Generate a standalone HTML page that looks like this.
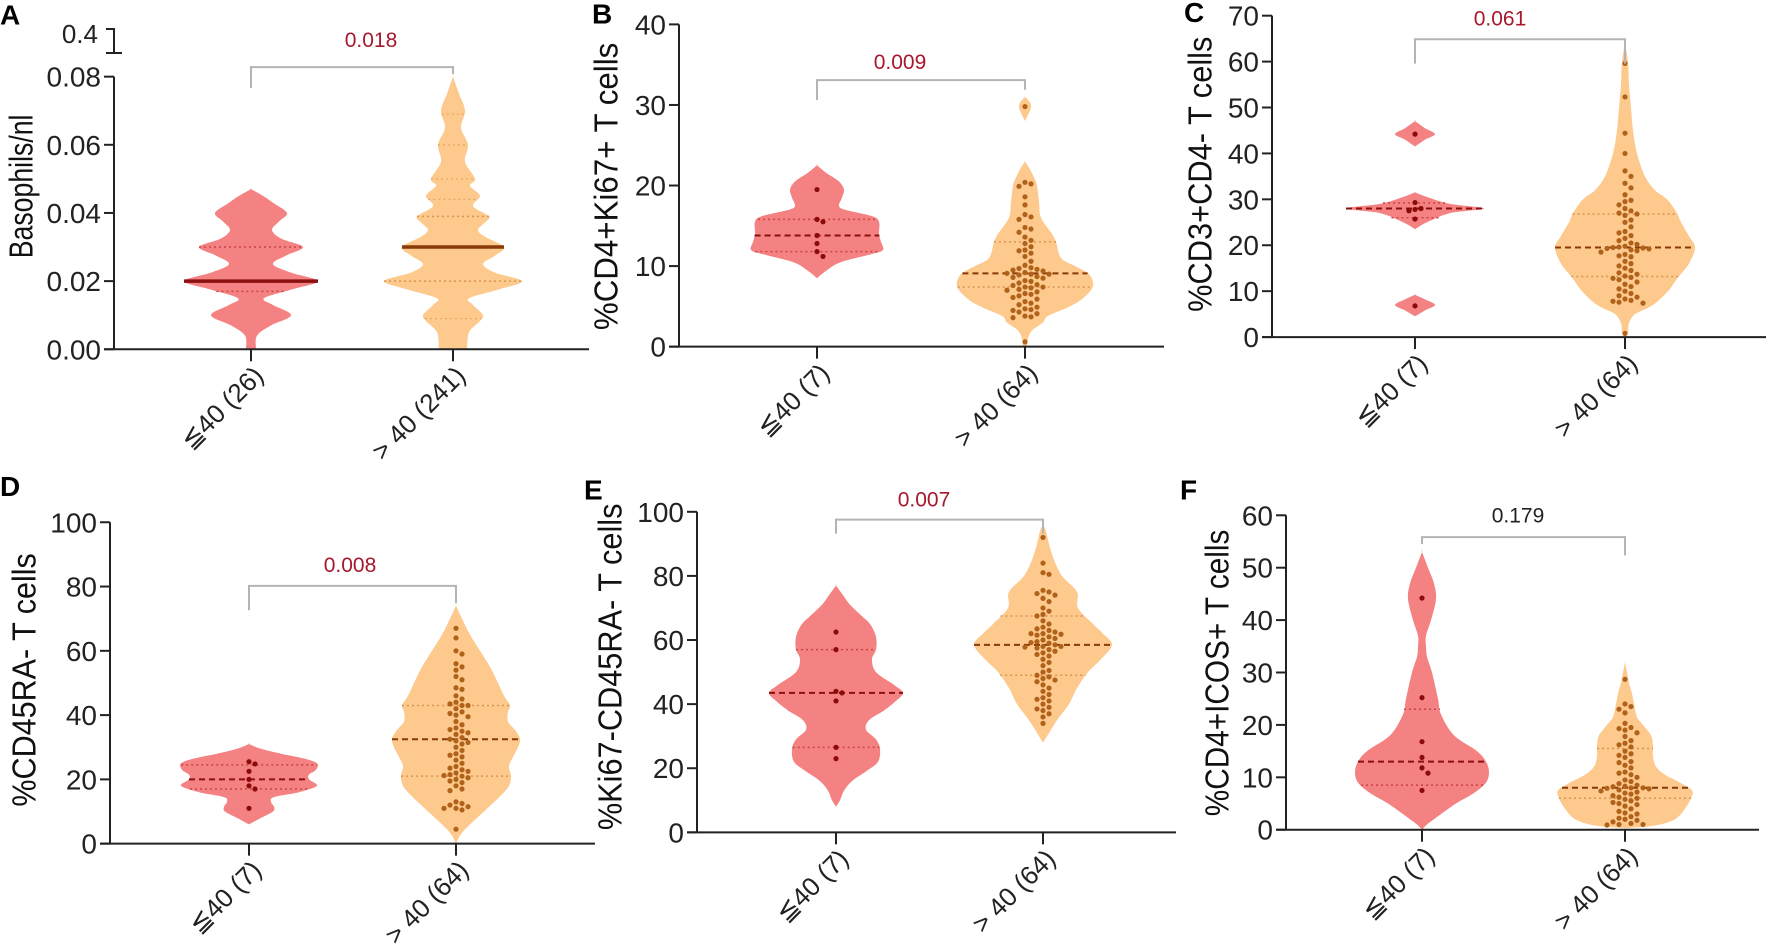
<!DOCTYPE html>
<html><head><meta charset="utf-8">
<style>
html,body{margin:0;padding:0;background:#fff;overflow:hidden;}
svg{display:block;font-family:"Liberation Sans",Arial,sans-serif;}
</style></head>
<body>
<svg id="fig" width="1772" height="946" viewBox="0 0 1772 946" xmlns="http://www.w3.org/2000/svg"></svg>
<script>
// ---------- DATA ----------
const categoriesA = ["≦40 (26)", "> 40 (241)"];
const categories = ["≦40 (7)", "> 40 (64)"];
const pValues = ["0.018", "0.009", "0.061", "0.008", "0.007", "0.179"];
const yTitles = ["Basophils/nl", "%CD4+Ki67+ T cells", "%CD3+CD4- T cells", "%CD45RA- T cells", "%Ki67-CD45RA- T cells", "%CD4+ICOS+ T cells"];
const ticksA = [0, 0.02, 0.04, 0.06, 0.08];
const tickLabelsA = ["0.00", "0.02", "0.04", "0.06", "0.08"];
const ticksB = [0, 10, 20, 30, 40];
const ticksC = [0, 10, 20, 30, 40, 50, 60, 70];
const ticksD = [0, 20, 40, 60, 80, 100];
const ticksE = [0, 20, 40, 60, 80, 100];
const ticksF = [0, 10, 20, 30, 40, 50, 60];

// violin profiles: [value, density]
const A_red_profile = [[0,5],[0.004,6],[0.007,20],[0.01,40],[0.013,22],[0.015,13],[0.0175,40],[0.02,67],[0.0225,40],[0.025,22],[0.0275,35],[0.03,52],[0.0325,30],[0.035,21],[0.0375,28],[0.04,36],[0.043,22],[0.045,12],[0.047,0]];
const A_org_profile = [[0,14],[0.005,16],[0.008,26],[0.01,30],[0.013,20],[0.015,16],[0.0175,45],[0.02,69],[0.0225,42],[0.025,30],[0.0275,42],[0.03,51],[0.033,32],[0.035,25],[0.037,31],[0.039,36],[0.042,20],[0.045,27],[0.048,17],[0.05,22],[0.055,12],[0.06,15],[0.065,8],[0.07,12],[0.075,6],[0.08,0]];
const A_red_stats = [0.02, 0.017, 0.03];
const A_org_stats = [0.03, 0.02, 0.039];
const A_org_extra = [0.009, 0.044, 0.05, 0.06, 0.069];
const A_red_points = [];
const A_org_points = [];

const B_red_profile = [[8.5,0],[9.5,10],[10.5,24],[11.5,55],[12,66],[13,64],[14,62],[15.5,62],[16.2,55],[17,28],[17.5,22],[18.5,25],[19.5,27],[20.5,22],[21.5,10],[22.5,0]];
const B_org_profile = [[0,2],[1,3],[2,7],[3,18],[3.8,23],[5,45],[6,58],[7.5,68],[9,64],[10,50],[11,36],[13,31],[14,27],[16,16],[18,14],[20,12],[21,9],[22,5],[23,0]];
const B_org_profile2 = [[28,0],[29.3,5],[29.8,6],[30.3,5],[31,0]];
const B_red_stats = [13.8, 11.8, 15.8];
const B_org_stats = [9.1, 7.4, 13];
const B_red_points = [19.5, 15.8, 15.5, 13.8, 12.8, 11.8, 11.2];
const B_org_points = [29.8,20.4,20.2,19.9,18.6,17.6,16.4,16.1,15.8,14.8,14.6,14.2,13.6,13.2,12.8,12.4,11.9,11.6,11.2,10.6,10.1,9.8,9.7,9.6,9.5,9.4,9.2,9.1,9.0,9.0,8.9,8.7,8.6,8.5,8.2,8.1,7.9,7.7,7.6,7.4,7.4,7.3,7.1,7.0,6.6,6.5,6.3,6.1,5.9,5.6,5.4,5.2,4.9,4.7,4.6,4.5,4.3,4.1,3.8,3.7,3.6,0.6,12.0,6.8];

const C_red_profile = [[23.5,0],[25,12],[27,35],[28,69],[29,35],[30.5,12],[31.5,0]];
const C_red_profile2 = [[41.5,0],[43,10],[44.2,20],[45.5,10],[47,0]];
const C_red_profile3 = [[4.5,0],[5.8,10],[7,20],[8.2,10],[9.2,0]];
const C_org_profile = [[0,0],[1,3],[3,4],[5,10],[7,28],[10,43],[13,53],[16,64],[19.5,70],[22,64],[25,56],[27,52],[30,42],[32,30],[35,20],[40,12],[45,8],[50,6],[55,4],[60,3],[64,0]];
const C_red_stats = [28, 26, 29.2];
const C_org_stats = [19.5, 13.2, 26.8];
const C_red_points = [44.2, 29.3, 28, 27.8, 27.5, 25.7, 6.8];
const C_org_points = [59.6,52.3,44.4,40,36.2,35,33.5,32.5,31,29.8,29.5,28.8,28,27.5,27,26.8,26.5,25.5,25,24,23,22.7,22.1,21.5,21,20.5,20.2,19.8,19.6,19.5,19.4,19.3,19.2,19.0,18.8,18.5,18,17.7,17.5,16.5,15.5,15,14.5,14,13.7,13.3,13,12.8,12.5,12,11.5,11,10.5,10,9.5,9,8.7,8.3,8,7.8,7.6,7.4,0.8,16];

const D_red_profile = [[6,0],[8,12],[10,24],[11.5,25],[13,22],[14.5,25],[16,50],[18,68],[20,60],[21.5,60],[23,67],[25,68],[26.5,55],[28,32],[29.5,12],[31,0]];
const D_org_profile = [[0,0],[3,5],[6,14],[10,28],[15,45],[18,53],[21,55],[24,53],[27,57],[30,62],[32.5,64],[35,60],[38,52],[41,52],[43,54],[46,48],[50,42],[55,34],[60,24],[65,14],[70,6],[74,0]];
const D_red_stats = [20, 17, 24.5];
const D_org_stats = [32.5, 21, 43];
const D_red_points = [25.5, 24.8, 22.5, 20, 18, 17, 11];
const D_org_points = [67,64,60,59,56,55,54,52,51,48,46,45,44,43.5,43,43,42,41,40,39.5,36,35.5,35,34.5,34,33,32.5,32,31.5,31,30,29,28,27,26,25,24,23.5,23,22.5,22,21.5,21,20.5,20,19.5,19,18,17,16.5,13,12.5,12,11.5,11,11,10.5,4.5,37,38,48.5,27.5,21.2,40.5];

const E_red_profile = [[8,0],[10,4],[13,8],[16,16],[19,30],[22,42],[26,44],[29,40],[32,30],[35,33],[38,48],[41,60],[43.5,67],[46,58],[50,40],[54,36],[57,40],[61,40],[65,34],[68,24],[71,14],[74,7],[77,0]];
const E_org_profile = [[28,0],[31,6],[35,14],[40,26],[45,34],[50,45],[54,58],[58.5,69],[62,60],[65,50],[70,35],[75,34],[80,19],[85,11],[90,6],[94,3],[96,0]];
const E_red_stats = [43.5, 26.5, 57];
const E_org_stats = [58.5, 49, 67.5];
const E_red_points = [62.5, 57, 44, 43.5, 41, 26.5, 23];
const E_org_points = [92,84,81,80.5,75.5,75,74.5,74,73,72,70,68,67.5,66,64,63.5,63,62.5,62,62,61.5,61,60.5,60,59.5,59,58.5,58,58,57.5,57,56.5,56,55,54,53,52,50.5,50,49,48.5,48,47.5,47,46,45,44,43,42,41.5,41,40,39,38.5,38,37,36,34,61.8,59.2,57.8,55.5,65,69];

const F_red_profile = [[0,0],[1,5],[2,12],[5,34],[7,52],[9,64],[11,67],[13,64],[15,55],[18,32],[22,19],[25,16],[30,10],[33,5],[35,4],[37,4],[40,9],[44,14],[47,12],[50,6],[53,0]];
const F_org_profile = [[0.3,0],[0.8,30],[2,50],[4,60],[6,66],[7.5,67],[9,55],[10.5,40],[12,31],[14,28],[16,28],[18,26],[20,18],[21.5,12],[24,9],[26,7],[28,4],[30,2],[32,0]];
const F_red_stats = [13, 8.5, 23];
const F_org_stats = [8, 6, 15.5];
const F_red_points = [44.2, 25.2, 16.8, 13.8, 11.8, 10.8, 7.5];
const F_org_points = [28.7,24,23.5,23,22.3,20.3,19.5,19.3,19,18.5,17.8,17,16.5,15.8,15,14.5,13.8,13,12.3,11.8,11,10.8,10.5,10,9.5,9.2,8.8,8.5,8.3,8.2,8,8,7.9,7.8,7.6,7.4,7.2,7,6.8,6.5,6.2,6,5.8,5.5,5.2,5,4.8,4.5,4,3.5,3.2,3,2.5,2.2,2,1.8,1.5,1.2,1,1,0.9,12.8,14.2,16.2];

// ---------- RENDER ----------
const NS = "http://www.w3.org/2000/svg";
const svg = document.getElementById("fig");
function mk(tag, attrs, parent) {
  const e = document.createElementNS(NS, tag);
  for (const k in attrs) e.setAttribute(k, attrs[k]);
  (parent || svg).appendChild(e);
  return e;
}
const RED = {fill:"#f58282", dot:"#8b0a0a", med:"#8b1010", q:"#c84545"};
const ORG = {fill:"#fdc98d", dot:"#b0621a", med:"#8a3a08", q:"#d89550"};

function smoothPath(pts) {
  let d = "M" + pts[0][0].toFixed(1) + "," + pts[0][1].toFixed(1);
  for (let i = 0; i < pts.length - 1; i++) {
    const p0 = pts[Math.max(0, i - 1)], p1 = pts[i], p2 = pts[i + 1], p3 = pts[Math.min(pts.length - 1, i + 2)];
    const c1x = p1[0] + (p2[0] - p0[0]) / 6, c1y = p1[1] + (p2[1] - p0[1]) / 6;
    const c2x = p2[0] - (p3[0] - p1[0]) / 6, c2y = p2[1] - (p3[1] - p1[1]) / 6;
    d += " C" + c1x.toFixed(1) + "," + c1y.toFixed(1) + " " + c2x.toFixed(1) + "," + c2y.toFixed(1) + " " + p2[0].toFixed(1) + "," + p2[1].toFixed(1);
  }
  return d;
}

function drawPanel(g, P) {
  const ys = v => P.y0 - (v - P.min) / (P.max - P.min) * (P.y0 - P.yTop);
  P.groups.forEach((G, gi) => {
    const cx = P.cats[gi], col = gi === 0 ? RED : ORG;
    G.profiles.forEach(prof => {
      const right = prof.map(p => [cx + p[1], ys(p[0])]);
      const left = prof.slice().reverse().map(p => [cx - p[1], ys(p[0])]);
      const path = mk("path", {d: smoothPath(right.concat(left)) + " Z", fill: col.fill}, g);
      
      
    });
    const widthAt = v => {
      let w = 0;
      G.profiles.forEach(prof => {
        for (let i = 0; i < prof.length - 1; i++) {
          if (v >= prof[i][0] && v <= prof[i + 1][0]) {
            const t = (v - prof[i][0]) / (prof[i + 1][0] - prof[i][0] || 1);
            w = Math.max(w, prof[i][1] + t * (prof[i + 1][1] - prof[i][1]));
          }
        }
      });
      return w;
    };
    (G.extra || []).forEach(v => {
      const w = widthAt(v);
      const l = mk("line", {x1: cx - w, x2: cx + w, y1: ys(v), y2: ys(v), stroke: col.q, "stroke-width": 1.3, "stroke-dasharray": "2 3", opacity: 0.6}, g);
      
      
    });
    [G.stats[1], G.stats[2]].forEach(v => {
      const w = widthAt(v);
      const l = mk("line", {x1: cx - w, x2: cx + w, y1: ys(v), y2: ys(v), stroke: col.q, "stroke-width": 1.5, "stroke-dasharray": "2 3"}, g);
      
      
    });
    const wm = widthAt(G.stats[0]);
    const med = mk("line", {x1: cx - wm, x2: cx + wm, y1: ys(G.stats[0]), y2: ys(G.stats[0]), stroke: col.med,
      "stroke-width": P.solidMedian ? 3.5 : 2, "stroke-dasharray": P.solidMedian ? "none" : "6 4"}, g);
    
    
    const placed = [];
    const sorted = G.points.slice().sort((a, b) => b - a);
    const r = 2.6, dd = 6;
    sorted.forEach(v => {
      const y = ys(v);
      let k = 0, x = cx;
      while (true) {
        const off = k === 0 ? 0 : (k % 2 ? 1 : -1) * Math.ceil(k / 2) * dd;
        x = cx + off;
        if (!placed.some(p => Math.hypot(p[0] - x, p[1] - y) < dd)) break;
        k++;
      }
      placed.push([x, y]);
      const c = mk("circle", {cx: x, cy: y, r: r, fill: col.dot}, g);
      
      
    });
  });
  const yAxis = mk("line", {x1: P.ax, x2: P.ax, y1: P.yTop, y2: P.y0, stroke: "#222", "stroke-width": 2}, g);
  
  
  const xAxis = mk("line", {x1: P.ax - 10, x2: P.xEnd, y1: P.y0, y2: P.y0, stroke: "#222", "stroke-width": 2}, g);
  
  
  P.ticks.forEach((t, i) => {
    const y = ys(t);
    const tk = mk("line", {x1: P.ax - 10, x2: P.ax, y1: y, y2: y, stroke: "#222", "stroke-width": 2}, g);
    
    
    const lb = mk("text", {x: P.ax - 13, y: y + 10, "text-anchor": "end", "font-size": 28, fill: "#222"}, g);
    lb.textContent = P.tickLabels ? P.tickLabels[i] : String(t);
    
    
  });
  P.cats.forEach((cx, i) => {
    const tk = mk("line", {x1: cx, x2: cx, y1: P.y0, y2: P.y0 + 12, stroke: "#222", "stroke-width": 2}, g);
    
    
    const lx = cx + 14, ly = P.y0 + 28;
    const lb = mk("text", {x: lx, y: ly, "text-anchor": "end", "font-size": 26, fill: "#222", transform: "rotate(-45 " + lx + " " + ly + ")"}, g);
    lb.textContent = P.catLabels[i];
    
    
  });
  const tt = mk("text", {x: P.title[0], y: P.title[1], "text-anchor": "middle", "font-size": 33, fill: "#111",
    textLength: P.title[2], lengthAdjust: "spacingAndGlyphs",
    transform: "rotate(-90 " + P.title[0] + " " + P.title[1] + ")", "dominant-baseline": "middle"}, g);
  tt.textContent = P.titleText;
  
  
  const b = P.bracket;
  const br = mk("path", {d: "M" + P.cats[0] + "," + b[1] + " L" + P.cats[0] + "," + b[0] + " L" + P.cats[1] + "," + b[0] + " L" + P.cats[1] + "," + b[2],
    fill: "none", stroke: "#b4b4b4", "stroke-width": 2}, g);
  
  
  const pv = mk("text", {x: P.pPos[0], y: P.pPos[1] + 7, "text-anchor": "middle", "font-size": 21, fill: P.pColor}, g);
  pv.textContent = P.pText;
  
  
  const L = mk("text", {x: P.letter[0], y: P.letter[1], "font-size": 28, "font-weight": "bold", fill: "#000"}, g);
  L.textContent = P.letterText;
  
  
}

const DR = "#a8182c";
const S = 0.871;
const panels = [
  {oy:0, letterText:"A", letter:[0,28], ax:114, y0:401, yTop:88, min:0, max:0.08, ticks:ticksA, tickLabels:tickLabelsA, xEnd:589, cats:[251,453], catLabels:categoriesA,
   title:[24,214,165], titleText:yTitles[0], bracket:[77,101,85], pText:pValues[0], pPos:[371,46], pColor:DR, solidMedian:true,
   groups:[{profiles:[A_red_profile], stats:A_red_stats, points:A_red_points},{profiles:[A_org_profile], stats:A_org_stats, points:A_org_points, extra:A_org_extra}]},
  {oy:0, letterText:"B", letter:[592,27], ax:679, y0:398, yTop:28, min:0, max:40, ticks:ticksB, xEnd:1164, cats:[817,1025], catLabels:categories,
   title:[609,214,330], titleText:yTitles[1], bracket:[92,115,103], pText:pValues[1], pPos:[900,71], pColor:DR,
   groups:[{profiles:[B_red_profile], stats:B_red_stats, points:B_red_points},{profiles:[B_org_profile,B_org_profile2], stats:B_org_stats, points:B_org_points}]},
  {oy:0, letterText:"C", letter:[1184,25], ax:1272, y0:387, yTop:18, min:0, max:70, ticks:ticksC, xEnd:1766, cats:[1415,1625], catLabels:categories,
   title:[1203,200,316], titleText:yTitles[2], bracket:[45,73,73], pText:pValues[2], pPos:[1500,21], pColor:DR,
   groups:[{profiles:[C_red_profile,C_red_profile2,C_red_profile3], stats:C_red_stats, points:C_red_points},{profiles:[C_org_profile], stats:C_org_stats, points:C_org_points}]},
  {oy:470, letterText:"D", letter:[0,500], ax:110, y0:899, yTop:530, min:0, max:100, ticks:ticksD, xEnd:595, cats:[249,456], catLabels:categories,
   title:[27,711,291], titleText:yTitles[3], bracket:[603,631,623], pText:pValues[3], pPos:[350,579], pColor:DR,
   groups:[{profiles:[D_red_profile], stats:D_red_stats, points:D_red_points},{profiles:[D_org_profile], stats:D_org_stats, points:D_org_points}]},
  {oy:470, letterText:"E", letter:[584,504], ax:697, y0:886, yTop:518, min:0, max:100, ticks:ticksE, xEnd:1176, cats:[836,1043], catLabels:categories,
   title:[613,696,375], titleText:yTitles[4], bracket:[527,543,543], pText:pValues[4], pPos:[924,504], pColor:DR,
   groups:[{profiles:[E_red_profile], stats:E_red_stats, points:E_red_points},{profiles:[E_org_profile], stats:E_org_stats, points:E_org_points}]},
  {oy:470, letterText:"F", letter:[1180,504], ax:1286, y0:883, yTop:522, min:0, max:60, ticks:ticksF, xEnd:1759, cats:[1422,1625], catLabels:categories,
   title:[1220,703,329], titleText:yTitles[5], bracket:[547,555,568], pText:pValues[5], pPos:[1518,522], pColor:"#222",
   groups:[{profiles:[F_red_profile], stats:F_red_stats, points:F_red_points},{profiles:[F_org_profile], stats:F_org_stats, points:F_org_points}]}
];
panels.forEach(P => {
  const Y = v => P.oy + (v - P.oy) * S;
  P.y0 = Y(P.y0); P.yTop = Y(P.yTop);
  P.bracket = P.bracket.map(Y);
  P.pPos = [P.pPos[0], Y(P.pPos[1])];
  P.letter = [P.letter[0], Y(P.letter[1])];
  P.title = [P.title[0], Y(P.title[1]), P.title[2] * S];
  const g = mk("g", {});
  
  
  drawPanel(g, P);
});
const brk = mk("path", {d:"M106,29 L114,29 L114,53 M106,53 L122,53", fill:"none", stroke:"#222", "stroke-width":2});


const brkLbl = mk("text", {x:98, y:43, "text-anchor":"end", "font-size":26, fill:"#222"});
brkLbl.textContent = "0.4";


</script>
</body></html>
